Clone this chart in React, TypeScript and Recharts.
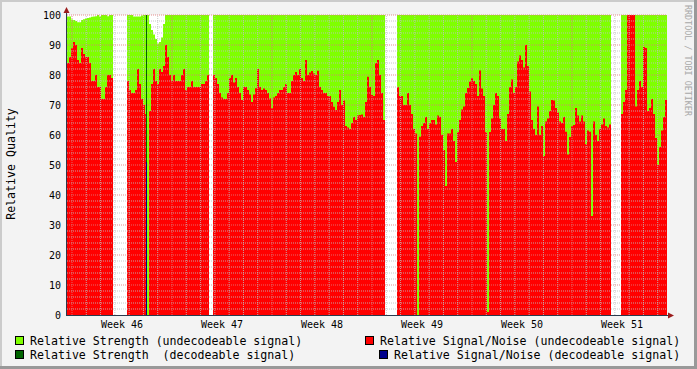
import React from "react";
import { ComposedChart, Area, XAxis, YAxis, CartesianGrid, ReferenceLine } from "recharts";

// sample times: hours relative to Monday of week 46, 00:00
const SAMPLE_START_HOURS = -8.4;
const SAMPLE_STEP_HOURS = 3.36;

// Relative Signal/Noise (undecodeable signal)
const snUndecodeable: (number | null)[] = [
  84, 86, 89, 91, 90, 85, 84, 89, 87, 86,
  86, 84, 78, 78, 80, 76, 76, 72, 72, 76,
  80, 80, 79, null, null, null, null, null, null, null,
  78, 75, 74, 74, 75, 82, 77, 72, 70, 67,
  0, 68, 77, 82, 78, 77, 82, 81, 83, 90,
  86, 80, 78, 80, 78, 78, 78, 80, 82, 75,
  76, 76, 78, 76, 76, 76, 76, 77, 77, 78,
  80, null, null, 80, 79, 77, 74, 72.5, 72, 72,
  74, 79, 80, 77.5, 79, 76, 74, 71.7, 76, 76,
  75, 73.5, 71, 73.5, 75.6, 82, 76, 75, 75.5, 75,
  74, 72.2, 69, 72.5, 73, 74, 75, 75, 76, 77,
  74, 74, 78, 80, 81, 80, 82, 79, 78, 85,
  80, 80.8, 81.3, 80.5, 80, 81.4, 76, 75, 74, 74,
  73, 73, 71, 69.4, 68.3, 71, 75, 70, 71.5, 63,
  62.5, 62, 64, 66, 65, 66.5, 66.7, 66.8, 66, 71,
  79.4, 76, 73.3, 73, 84, 85, 80, 74, 65, null,
  null, null, null, null, null, 75.9, 73, 73, 70, 70,
  74, 70, 67, 62, 60.5, 0, 59.4, 63, 64, 66,
  62, 63.9, 65, 65, 63.5, 66.5, 66, 60, 55, 43,
  60.5, 60.5, 62, 58, 51, 61, 65, 68.5, 69.5, 74,
  75.7, 77.8, 79, 78, 77, 73, 81.5, 75.5, 73, 61,
  1, 61, 65.5, 70, 74, 73, 65.5, 62, 62, 58,
  67, 76, 78.5, 74, 76, 84.5, 86.5, 85, 82.5, 90,
  83, 74.5, 65, 62, 60, 69.5, 60, 63, 53, 64.5,
  65.5, 68, 71.7, 71.5, 69, 67.5, 64.5, 64, 66, 61.1,
  53.5, 59.3, 63, 63.3, 69, 66.5, 64.5, 66.5, 64.5, 57,
  61.5, 61.1, 33, 64.5, 60, 58, 62, 63.5, 65.5, 63,
  62.5, 63.5, null, null, null, null, null, 67, 71, 75,
  100, 100, 100, 100, 69.5, 75, 78, 76, 89.3, 89,
  68, 69, 72, 67, 59, 50, 56, 61.5, 66, 71.7,
];

// Relative Strength (undecodeable signal)
const strengthUndecodeable: (number | null)[] = [
  99.5, 99.5, 98.5, 98.3, 98, 97.6, 97.6, 98.3, 98.6, 98.8,
  99, 99.2, 99.4, 99.5, 99.6, 100, 99.5, 100, 100, 100,
  99.6, 100, 100, null, null, null, null, null, null, null,
  100, 100, 100, 99.5, 99.5, 99.5, 99.5, 99.8, 100, 100,
  100, 97, 95, 93.5, 92, 90.5, 91, 92.5, 97, 100,
  100, 100, 100, 100, 100, 100, 100, 100, 100, 100,
  100, 100, 100, 100, 100, 100, 100, 100, 100, 100,
  100, null, null, 100, 100, 100, 100, 100, 100, 100,
  100, 100, 100, 100, 100, 100, 100, 100, 100, 100,
  100, 100, 100, 100, 100, 100, 100, 100, 100, 100,
  100, 100, 100, 100, 100, 100, 100, 100, 100, 100,
  100, 100, 100, 100, 100, 100, 100, 100, 100, 100,
  100, 100, 100, 100, 100, 100, 100, 100, 100, 100,
  100, 100, 100, 100, 100, 100, 100, 100, 100, 100,
  100, 100, 100, 100, 100, 100, 100, 100, 100, 100,
  100, 100, 100, 100, 100, 100, 100, 100, 100, null,
  null, null, null, null, null, 100, 100, 100, 100, 100,
  100, 100, 100, 100, 100, 100, 100, 100, 100, 100,
  100, 100, 100, 100, 100, 100, 100, 100, 100, 100,
  100, 100, 100, 100, 100, 100, 100, 100, 100, 100,
  100, 100, 100, 100, 100, 100, 100, 100, 100, 100,
  100, 100, 100, 100, 100, 100, 100, 100, 100, 100,
  100, 100, 100, 100, 100, 100, 100, 100, 100, 100,
  100, 100, 100, 100, 100, 100, 100, 100, 100, 100,
  100, 100, 100, 100, 100, 100, 100, 100, 100, 100,
  100, 100, 100, 100, 100, 100, 100, 100, 100, 100,
  100, 100, 100, 100, 100, 100, 100, 100, 100, 100,
  100, 100, null, null, null, null, null, 100, 100, 100,
  100, 100, 100, 100, 100, 100, 100, 100, 100, 100,
  100, 100, 100, 100, 100, 100, 100, 100, 100, 100,
];

// decodeable signal events (sample position, strength, S/N)
const decodeSamples = [39.5];
const strengthDecodeable = [100];
const snDecodeable = [51];

const weekTicks = [84, 252, 420, 588, 756, 924];
const weekLabels = ["Week 46", "Week 47", "Week 48", "Week 49", "Week 50", "Week 51"];
const yTicks = [0, 10, 20, 30, 40, 50, 60, 70, 80, 90, 100];
const yMinorGrid = [2, 4, 6, 8, 12, 14, 16, 18, 22, 24, 26, 28, 32, 34, 36, 38, 42, 44, 46, 48, 52, 54, 56, 58, 62, 64, 66, 68, 72, 74, 76, 78, 82, 84, 86, 88, 92, 94, 96, 98];
const yMajorGrid = [10, 20, 30, 40, 50, 60, 70, 80, 90, 100];
const weekStarts = [0, 168, 336, 504, 672, 840];
const dayLines = [
  24, 48, 72, 96, 120, 144, 192, 216, 240, 264, 288, 312, 360, 384, 408, 432, 456, 480,
  528, 552, 576, 600, 624, 648, 696, 720, 744, 768, 792, 816, 864, 888, 912, 936, 960, 984,
];

const FONT = "'DejaVu Sans Mono', monospace";
const N = snUndecodeable.length;
const X_MIN = SAMPLE_START_HOURS;
const X_MAX = SAMPLE_START_HOURS + SAMPLE_STEP_HOURS * N;

type Row = { t: number; sg: number | null; sn: number | null; dsg: number | null; dsn: number | null };
const raw: Row[] = [];
for (let i = 0; i < N; i++) {
  raw.push({ t: X_MIN + SAMPLE_STEP_HOURS * i, sg: strengthUndecodeable[i], sn: snUndecodeable[i], dsg: null, dsn: null });
}
decodeSamples.forEach((s, k) => {
  const i = Math.floor(s);
  raw.push({ t: X_MIN + SAMPLE_STEP_HOURS * s, sg: strengthUndecodeable[i], sn: snUndecodeable[i], dsg: strengthDecodeable[k], dsn: snDecodeable[k] });
});
raw.push({ t: X_MAX, sg: null, sn: null, dsg: null, dsn: null });
raw.sort((a, b) => a.t - b.t);
const KEYS: (keyof Row)[] = ["sg", "sn", "dsg", "dsn"];
const rows = raw.map((r, k) => {
  const o: any = { ...r };
  KEYS.forEach((key) => {
    if (o[key] == null && k > 0 && (raw[k - 1] as any)[key] != null) o[key] = (raw[k - 1] as any)[key];
  });
  return o;
});

const MINOR = "rgba(190,190,190,0.85)";
const MAJOR = "rgba(225,120,120,0.85)";

export default function App() {
  return (
    <div style={{ position: "absolute", left: 0, top: 0, width: 697, height: 369, background: "#f3f3f3", overflow: "hidden" }}>
      <ComposedChart width={697} height={369} data={rows} margin={{ top: 15, right: 30, bottom: 34, left: 17 }}>
        <CartesianGrid horizontal={false} vertical={false} fill="#ffffff" />
        <XAxis
          dataKey="t"
          type="number"
          domain={[X_MIN, X_MAX]}
          allowDataOverflow
          ticks={weekTicks}
          interval={0}
          tickFormatter={(v: number) => weekLabels[weekTicks.indexOf(v)] ?? ""}
          axisLine={false}
          tickLine={false}
          tickSize={4}
          tickMargin={2}
          height={20}
          tick={{ fontFamily: FONT, fontSize: 10, fill: "#000" }}
        />
        <YAxis
          type="number"
          domain={[0, 100]}
          ticks={yTicks}
          interval={0}
          axisLine={false}
          tickLine={false}
          tickSize={4}
          tickMargin={2}
          width={50}
          tick={{ fontFamily: FONT, fontSize: 10, fill: "#000" }}
        />
        <Area type="stepAfter" dataKey="sg" stroke="none" fill="#7fff00" fillOpacity={1} isAnimationActive={false} dot={false} activeDot={false} />
        <Area type="stepAfter" dataKey="sn" stroke="none" fill="#ff0000" fillOpacity={1} isAnimationActive={false} dot={false} activeDot={false} />
        <Area type="stepAfter" dataKey="dsg" stroke="none" fill="#006400" fillOpacity={1} isAnimationActive={false} dot={false} activeDot={false} />
        <Area type="stepAfter" dataKey="dsn" stroke="none" fill="#00008b" fillOpacity={1} isAnimationActive={false} dot={false} activeDot={false} />
        {yMinorGrid.map((v) => (
          <ReferenceLine key={"ym" + v} y={v} stroke={MINOR} strokeDasharray="1 1" />
        ))}
        {dayLines.map((v) => (
          <ReferenceLine key={"xm" + v} x={v} stroke={MINOR} strokeDasharray="1 1" />
        ))}
        {yMajorGrid.map((v) => (
          <ReferenceLine key={"yM" + v} y={v} stroke={MAJOR} strokeDasharray="1 1" />
        ))}
        {weekStarts.map((v) => (
          <ReferenceLine key={"xM" + v} x={v} stroke={MAJOR} strokeDasharray="1 1" />
        ))}
      </ComposedChart>
      <svg width={697} height={369} style={{ position: "absolute", left: 0, top: 0, pointerEvents: "none" }}>
        <rect x={0} y={0} width={697} height={2} fill="#cbcbcb" />
        <rect x={0} y={0} width={2} height={369} fill="#cbcbcb" />
        <rect x={0} y={366} width={697} height={3} fill="#999999" />
        <rect x={694} y={0} width={3} height={369} fill="#999999" />
        <line x1={66.5} y1={10} x2={66.5} y2={316} stroke="#2c3a4d" strokeWidth={1} />
        <line x1={66} y1={315.5} x2={670} y2={315.5} stroke="#2c3a4d" strokeWidth={1} />
        <polygon points="63.5,13 69.5,13 66.5,7" fill="#9b1c1c" />
        <polygon points="668,312.5 668,318.5 674,315.5" fill="#9b1c1c" />
        <text transform="translate(15,164) rotate(-90)" textAnchor="middle" fontFamily={FONT} fontSize={11.6} fill="#000">
          Relative Quality
        </text>
        <text transform="translate(684.5,5) rotate(90)" textAnchor="start" fontFamily={FONT} fontSize={8.4} fill="#a8a8a8">
          RRDTOOL / TOBI OETIKER
        </text>
        <rect x={15.5} y={336.5} width={8} height={8} fill="#7fff00" stroke="#000" />
        <text x={30} y={345} fontFamily={FONT} fontSize={11.6} fill="#000" style={{ whiteSpace: "pre" }}>
          Relative Strength (undecodeable signal)
        </text>
        <rect x={15.5} y={350.5} width={8} height={8} fill="#006400" stroke="#000" />
        <text x={30} y={359} fontFamily={FONT} fontSize={11.6} fill="#000" style={{ whiteSpace: "pre" }}>
          {"Relative Strength  (decodeable signal)"}
        </text>
        <rect x={365.5} y={336.5} width={8} height={8} fill="#ff0000" stroke="#000" />
        <text x={380} y={345} fontFamily={FONT} fontSize={11.6} fill="#000" style={{ whiteSpace: "pre" }}>
          Relative Signal/Noise (undecodeable signal)
        </text>
        <rect x={379.5} y={350.5} width={8} height={8} fill="#00008b" stroke="#000" />
        <text x={394} y={359} fontFamily={FONT} fontSize={11.6} fill="#000" style={{ whiteSpace: "pre" }}>
          Relative Signal/Noise (decodeable signal)
        </text>
      </svg>
    </div>
  );
}
